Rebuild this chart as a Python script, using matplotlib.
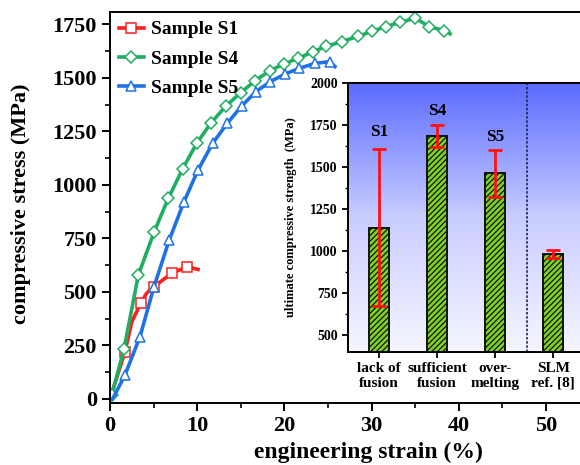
import numpy as np
import matplotlib
matplotlib.use("Agg")
import matplotlib.pyplot as plt
from matplotlib.colors import LinearSegmentedColormap
from matplotlib.ticker import MultipleLocator

plt.rcParams['font.family'] = ['Liberation Serif', 'DejaVu Serif']
plt.rcParams['font.weight'] = 'bold'
plt.rcParams['hatch.linewidth'] = 0.9

# stress-strain curves
s1_strain = [0.0, 1.72, 2.5, 3.52, 4.2, 5.05, 7.07, 8.86, 10.1]
s1_stress = [0, 221, 360, 447, 494, 525, 587, 618, 605]
s1_marks = [1, 3, 5, 6, 7]

s4_strain = [0.2, 1.6, 3.25, 5.05, 6.69, 8.33, 9.94, 11.55, 13.3, 15.0, 16.6,
             18.3, 19.95, 21.6, 23.3, 24.8, 26.6, 28.4, 30.0, 31.65, 33.3,
             35.0, 36.6, 38.3, 39.0]
s4_stress = [20, 232, 579, 779, 938, 1075, 1194, 1288, 1369, 1431, 1486,
             1533, 1565, 1592, 1623, 1647, 1670, 1694, 1717, 1740, 1760,
             1779, 1740, 1721, 1706]
s4_marks = list(range(0, 24))

s5_strain = [0.3, 1.72, 3.44, 5.05, 6.8, 8.49, 10.1, 11.77, 13.45, 15.1,
             16.74, 18.4, 20.07, 21.7, 23.5, 25.2, 25.8]
s5_stress = [0, 112, 291, 525, 743, 922, 1070, 1194, 1288, 1369,
             1436, 1483, 1518, 1545, 1568, 1576, 1553]
s5_marks = list(range(1, 16))

# inset bar data
bar_names = ['lack of\nfusion', 'sufficient\nfusion', 'over-\nmelting', 'SLM\nref. [8]']
bar_tags = ['S1', 'S4', 'S5', '']
bar_vals = [1140, 1686, 1462, 982]
bar_errs = [465, 66, 139, 25]
tag_y = [1710, 1835, 1680]

RED, GREEN, BLUE = '#ff1f1f', '#1fae62', '#1f72e6'

fig = plt.figure(figsize=(5.8, 4.65), dpi=100)
ax = fig.add_axes([110/580, 1-403/465, 470/580, 391/465])

for xs, ys, mk, c, m, lbl in ((s1_strain, s1_stress, s1_marks, RED, 's', 'Sample S1'),
                               (s4_strain, s4_stress, s4_marks, GREEN, 'D', 'Sample S4'),
                               (s5_strain, s5_stress, s5_marks, BLUE, '^', 'Sample S5')):
    ms = 6.5 if m == 'D' else 7.5
    ax.plot(xs, ys, color=c, lw=2.6, marker=m, ms=ms, mfc='white', mec=c,
            mew=1.1, markevery=mk, label=lbl)

ax.set_xlim(0, 53.9)
ax.set_ylim(-19, 1808)
ax.xaxis.set_major_locator(MultipleLocator(10))
ax.xaxis.set_minor_locator(MultipleLocator(5))
ax.yaxis.set_major_locator(MultipleLocator(250))
ax.yaxis.set_minor_locator(MultipleLocator(125))
ax.tick_params(which='major', direction='out', length=6, width=1.4, labelsize=16)
ax.tick_params(which='minor', direction='out', length=3.5, width=1.2)
for sp in ax.spines.values():
    sp.set_linewidth(1.4)
ax.spines['right'].set_visible(False)
ax.set_ylabel('compressive stress (MPa)', fontsize=16, fontweight='bold')
ax.set_xlabel('engineering strain (%)', fontsize=17, fontweight='bold')
ax.xaxis.set_label_coords(0.549, -0.1)
ax.yaxis.set_label_coords(-0.168, 0.51)
ax.legend(loc='upper left', frameon=False, handlelength=1.3,
          labelspacing=0.6, borderaxespad=0.05, handletextpad=0.35,
          prop={'size': 14, 'weight': 'bold'})

# inset
ins = fig.add_axes([348/580, 1-352/465, 232/580, 269/465])
grad = LinearSegmentedColormap.from_list('bg', ['#f6f6ff', '#c9cdff', '#5b6cff'])
ins.imshow(np.linspace(0, 1, 256).reshape(-1, 1)[::-1], cmap=grad, aspect='auto',
           extent=[0, 1, 0, 1], transform=ins.transAxes, zorder=0)
pos = np.arange(1, len(bar_vals) + 1)
ins.bar(pos, bar_vals, width=0.35, color='#7ed321', edgecolor='#111111',
        linewidth=1.4, hatch='//////', zorder=2)
ins.errorbar(pos, bar_vals, yerr=bar_errs, fmt='none', ecolor='#ff1010',
             elinewidth=2, capsize=5, capthick=2, zorder=3)
for p, t, ty in zip(pos, bar_tags, tag_y):
    ins.text(p, ty, t, ha='center', va='center', fontsize=12.5, fontweight='bold')
ins.axvline(3.555, color='#1a2a55', lw=1.2, ls=(0, (1.5, 1)), zorder=1)
ins.set_xlim(0.47, 4.46)
ins.set_ylim(400, 2000)
ins.set_xticks(pos, bar_names)
ins.yaxis.set_major_locator(MultipleLocator(250))
ins.yaxis.set_minor_locator(MultipleLocator(125))
ins.tick_params(which='major', direction='out', length=4, width=1.3, labelsize=10)
ins.tick_params(axis='x', labelsize=11, pad=3)
ins.tick_params(which='minor', direction='out', length=2.5, width=1)
for sp in ins.spines.values():
    sp.set_linewidth(1.4)
ins.spines['right'].set_visible(False)
ins.set_ylabel('ultimate compressive strength  (MPa)', fontsize=9, fontweight='bold')
ins.yaxis.set_label_coords(-0.22, 0.5)

fig.savefig('out.png', dpi=100)
